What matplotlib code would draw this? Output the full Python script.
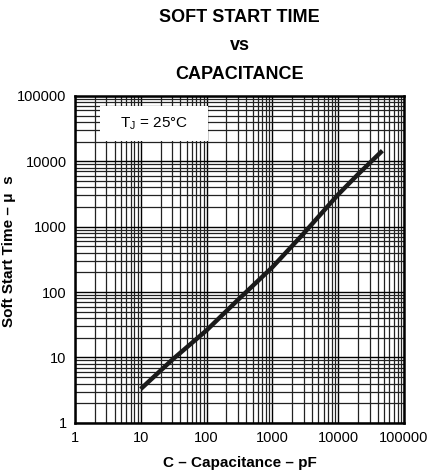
import matplotlib
matplotlib.use("Agg")
import matplotlib.pyplot as plt
from matplotlib.ticker import LogLocator, FixedLocator, FixedFormatter, NullFormatter
from matplotlib.patches import Rectangle

# values
cap_pf = [10, 30, 100, 300, 1000, 3000, 10000, 20000, 47000]
soft_start_us = [3.3, 9.2, 26, 76, 240, 790, 3100, 6300, 14500]

ticks = [1, 10, 100, 1000, 10000, 100000]
tick_labels = ["1", "10", "100", "1000", "10000", "100000"]

plt.rcParams['font.family'] = ['Liberation Sans', 'DejaVu Sans']

fig = plt.figure(figsize=(4.33, 4.72), dpi=100)
ax = fig.add_axes([0.173, 0.104, 0.760, 0.693])

ax.set_xscale("log")
ax.set_yscale("log")
ax.set_xlim(1, 100000)
ax.set_ylim(1, 100000)

ax.xaxis.set_major_locator(FixedLocator(ticks))
ax.yaxis.set_major_locator(FixedLocator(ticks))
ax.xaxis.set_major_formatter(FixedFormatter(tick_labels))
ax.yaxis.set_major_formatter(FixedFormatter(tick_labels))
ax.xaxis.set_minor_locator(LogLocator(base=10, subs=range(2, 10), numticks=20))
ax.yaxis.set_minor_locator(LogLocator(base=10, subs=range(2, 10), numticks=20))
ax.xaxis.set_minor_formatter(NullFormatter())
ax.yaxis.set_minor_formatter(NullFormatter())

ax.grid(True, which="major", color="black", linewidth=1.0)
ax.grid(True, which="minor", color="#222222", linewidth=0.9)
ax.set_axisbelow(True)
ax.tick_params(which="both", length=0, labelsize=10.5, pad=6)
for s in ax.spines.values():
    s.set_linewidth(1.8)

ax.plot(cap_pf, soft_start_us, color="#1a1a1a", linewidth=3.2,
        solid_capstyle="butt", zorder=3)

# label box that hides the grid
ax.add_patch(Rectangle((0.076, 0.862), 0.327, 0.108, transform=ax.transAxes,
                       facecolor="white", edgecolor="none", zorder=2.5))
ax.text(0.24, 0.915, "T$_\\mathregular{J}$ = 25°C", transform=ax.transAxes,
        ha="center", va="center", fontsize=11, zorder=4)

ax.set_xlabel("C – Capacitance – pF", fontsize=11, fontweight="bold", labelpad=8)
ax.set_ylabel("Soft Start Time – μ  s", fontsize=11, fontweight="bold")
ax.yaxis.set_label_coords(-0.179, 0.526)

fig.text(0.553, 0.963, "SOFT START TIME", ha="center", va="center",
         fontsize=13, fontweight="bold")
fig.text(0.553, 0.903, "vs", ha="center", va="center",
         fontsize=13, fontweight="bold")
fig.text(0.553, 0.843, "CAPACITANCE", ha="center", va="center",
         fontsize=13, fontweight="bold")

fig.savefig("out.png", dpi=100)
plt.close(fig)
